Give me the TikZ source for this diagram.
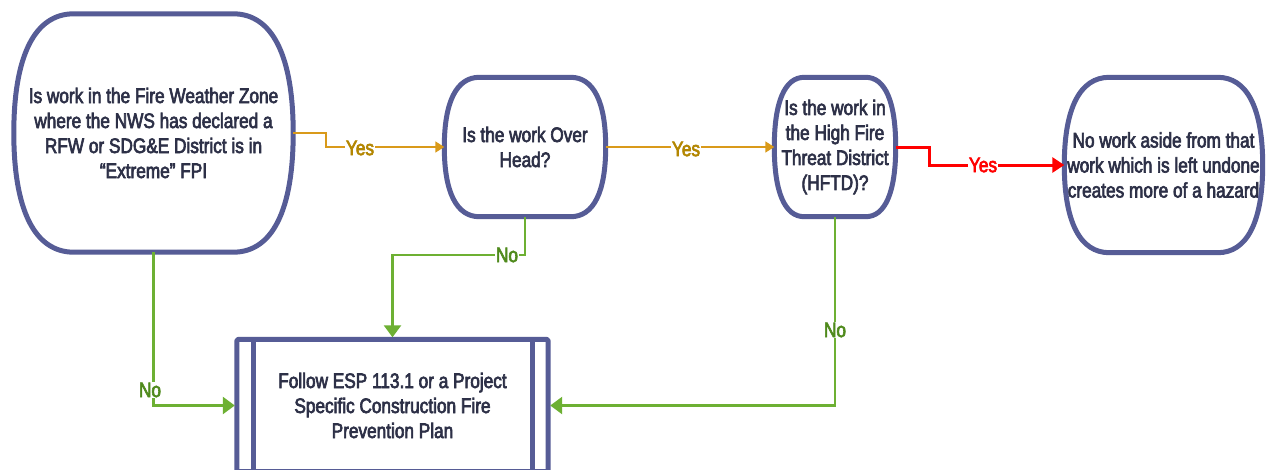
\documentclass[tikz,border=0pt]{standalone}
\usepackage{fontspec}
\setmainfont{Liberation Sans}[FakeStretch=0.82,FakeBold=3]
\usetikzlibrary{arrows.meta,calc}
\definecolor{border}{HTML}{565C96}
\definecolor{txt}{HTML}{2D3047}
\definecolor{orangeline}{HTML}{D99A1A}
\definecolor{yestxt}{HTML}{B38600}
\definecolor{greenline}{HTML}{6DB033}
\definecolor{notxt}{HTML}{4F8A1C}
\definecolor{redline}{HTML}{FF0000}
\newcommand\bulgeshape[2]{%
 \draw[nodeline] ([xshift=#2]#1.north west) -- ([xshift=-#2]#1.north east)
  .. controls ([xshift=-0.35*#2]#1.north east) and ($(#1.north east)!0.35!(#1.east)$) .. (#1.east)
  .. controls ($(#1.east)!0.65!(#1.south east)$) and ([xshift=-0.35*#2]#1.south east) .. ([xshift=-#2]#1.south east)
  -- ([xshift=#2]#1.south west)
  .. controls ([xshift=0.35*#2]#1.south west) and ($(#1.south west)!0.35!(#1.west)$) .. (#1.west)
  .. controls ($(#1.west)!0.65!(#1.north west)$) and ([xshift=0.35*#2]#1.north west) .. cycle;}
\tikzset{
  txtfont/.style={font=\fontsize{21}{25}\selectfont},
  nodeline/.style={draw=border, line width=5pt, line join=round},
  qbox/.style={draw=none, inner sep=0pt, align=center, text=txt, txtfont},
  yesline/.style={draw=orangeline, line width=1.5pt, -{Triangle[length=9pt,width=11pt]}},
  redarrow/.style={draw=redline, line width=3pt, -{Triangle[length=12pt,width=15pt]}},
  noline/.style={draw=greenline, line width=2.5pt, -{Triangle[length=12pt,width=17pt]}, shorten >=2pt},
  yeslbl/.style={fill=white, inner sep=0.5pt, text=yestxt, txtfont},
  redlbl/.style={fill=white, inner sep=0.5pt, text=redline, txtfont},
  nolbl/.style={fill=white, inner sep=0.5pt, text=notxt, txtfont},
}
\begin{document}
\begin{tikzpicture}[x=1pt,y=-1pt]
\useasboundingbox (0,0) rectangle (1267,469);
\fill[white] (0,0) rectangle (1267,469);
\begin{scope}
\clip (0,0) rectangle (1267,469);
% nodes
\node[qbox, minimum width=279pt, minimum height=238pt] (A) at (153.5,133)
  {Is work in the Fire Weather Zone\\where the NWS has declared a\\RFW or SDG\&E District is in\\“Extreme” FPI};
\node[qbox, minimum width=161pt, minimum height=139pt] (B) at (525,147)
  {Is the work Over\\Head?};
\node[qbox, minimum width=121pt, minimum height=139pt] (C) at (835,147)
  {Is the work in\\the High Fire\\Threat District\\(HFTD)?};
\node[qbox, minimum width=198pt, minimum height=175pt] (D) at (1163.5,165)
  {No work aside from that\\work which is left undone\\creates more of a hazard};
\node[qbox, minimum width=311pt, minimum height=132pt] (E) at (392.5,405.5)
  {Follow ESP 113.1 or a Project\\Specific Construction Fire\\Prevention Plan};
\bulgeshape{A}{60pt}
\bulgeshape{B}{35pt}
\bulgeshape{C}{30pt}
\bulgeshape{D}{45pt}
\draw[nodeline, rounded corners=2pt] (E.north west) rectangle (E.south east);
\draw[nodeline] ([xshift=17pt]E.north west) -- ([xshift=17pt]E.south west);
\draw[nodeline] ([xshift=-16pt]E.north east) -- ([xshift=-16pt]E.south east);
% connectors
\draw[yesline] (A.east) -- ++(33,0) |- (B.west);
\draw[yesline] (B.east) -- (C.west);
\draw[redarrow] (C.east) -- ++(34,0) |- (D.west);
\draw[noline] (B.south) -- ++(0,38.5) -| (E.north);
\draw[noline] (A.south) |- (E.west);
\draw[noline] (C.south) |- (E.east);
% labels
\node[yeslbl] (y1) at (360,148) {Yes};
\node[yeslbl] (y2) at (686,149) {Yes};
\node[redlbl] (y3) at (983,165) {Yes};
\node[nolbl] (n1) at (507,255) {No};
\node[nolbl] (n2) at (150,390) {No};
\node[nolbl] (n3) at (835,330) {No};
\end{scope}
\end{tikzpicture}
\end{document}
